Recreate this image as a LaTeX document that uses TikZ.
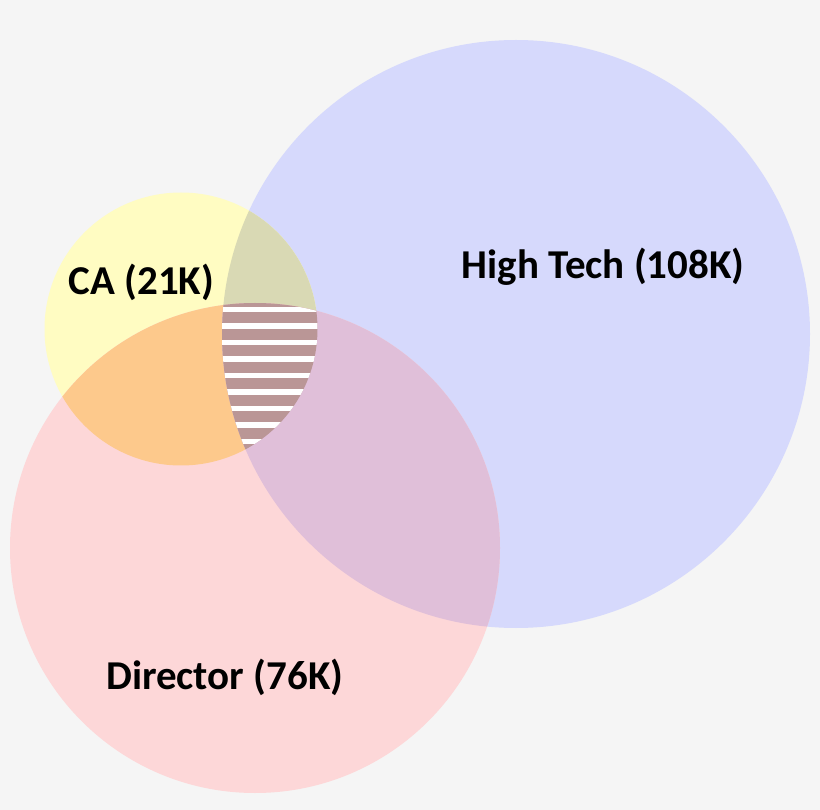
\documentclass[tikz,border=0pt]{standalone}
\usepackage{fontspec}
\setmainfont{Carlito}
\definecolor{bgc}{HTML}{F5F5F5}
\definecolor{bluec}{HTML}{D6D9FC}
\definecolor{yelc}{HTML}{FFFCC2}
\definecolor{pinkc}{HTML}{FDD7D8}
\definecolor{ybc}{HTML}{D9D9B4}
\definecolor{ypc}{HTML}{FDC98C}
\definecolor{bpc}{HTML}{E0BFD9}
\definecolor{brownc}{HTML}{BA9696}
\begin{document}
\begin{tikzpicture}[x=1pt,y=-1pt,
  lbl/.style={font=\bfseries\fontsize{41}{41}\selectfont, anchor=base, inner sep=0pt, text=black}]
\fill[bgc] (0,0) rectangle (820,810);
\useasboundingbox (0,0) rectangle (820,810);
\def\blue{(516,334) circle (294pt)}
\def\yel{(181,329) circle (136.5pt)}
\def\pink{(255,548) circle (245pt)}
% single sets
\fill[bluec] \blue;
\fill[yelc] \yel;
\fill[pinkc] \pink;
% pairwise overlaps
\begin{scope}\clip \yel; \fill[ybc] \blue; \end{scope}
\begin{scope}\clip \yel; \fill[ypc] \pink; \end{scope}
\begin{scope}\clip \blue; \fill[bpc] \pink; \end{scope}
% triple overlap, striped
\begin{scope}
  \clip \yel; \clip \blue; \clip \pink;
  \fill[brownc] (200,290) rectangle (340,470);
  \foreach \k in {0,...,9}{
    \fill[white] (200,{306.55+\k*16.55}) rectangle (340,{312.05+\k*16.55});
  }
\end{scope}
% labels
\node[lbl] (ca) at (141.5,295) {CA (21K)};
\node[lbl] (ht) at (603,279) {High Tech (108K)};
\node[lbl] (dir) at (224.7,689.3) {Director (76K)};
\end{tikzpicture}
\end{document}
